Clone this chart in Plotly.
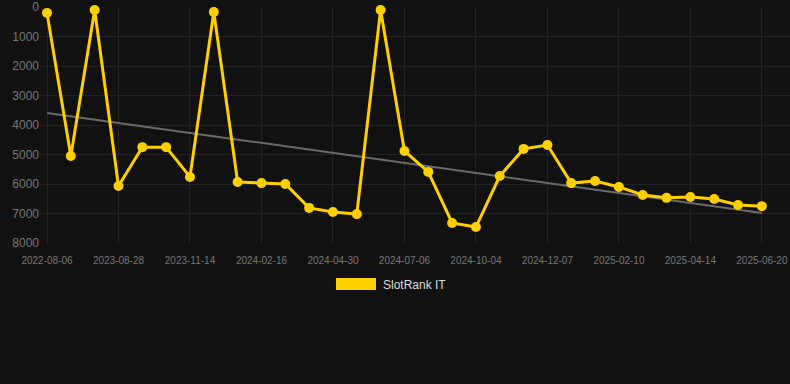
import plotly.graph_objects as go

dates = ["2022-08-06", "2022-09-10", "2023-07-20", "2023-08-28", "2023-09-20", "2023-10-15",
         "2023-11-14", "2023-12-10", "2024-01-05", "2024-02-16", "2024-03-10", "2024-03-30",
         "2024-04-30", "2024-05-20", "2024-06-10", "2024-07-06", "2024-08-01", "2024-09-01",
         "2024-10-04", "2024-10-25", "2024-11-15", "2024-12-07", "2024-12-28", "2025-01-20",
         "2025-02-10", "2025-03-01", "2025-03-22", "2025-04-14", "2025-05-05", "2025-05-28",
         "2025-06-20"]
ranks = [200, 5050, 100, 6070, 4750, 4750, 5760, 170, 5930, 5970, 6000, 6810, 6950, 7020,
         100, 4880, 5590, 7320, 7460, 5730, 4810, 4680, 5970, 5900, 6100, 6370, 6470, 6440,
         6510, 6710, 6750]
trend_ends = [3590, 6980]
tick_labels = [d for i, d in enumerate(dates) if i % 3 == 0]
series_name = "SlotRank IT"

YELLOW = "#FFD000"
BG = "#111111"

fig = go.Figure()
fig.add_trace(go.Scatter(
    x=[dates[0], dates[-1]], y=trend_ends, mode="lines",
    line=dict(color="#6b6b6b", width=2), showlegend=False, hoverinfo="skip"))
fig.add_trace(go.Scatter(
    x=dates, y=ranks, mode="lines+markers", name=series_name,
    line=dict(color=YELLOW, width=3), marker=dict(color=YELLOW, size=10),
    cliponaxis=False, showlegend=False))

L, R, T, B = 40, 0, 7, 141
W, H = 790, 384
pw, ph = W - L - R, H - T - B

def px_x(p):
    return (p - L) / pw

def px_y(p):
    return (H - B - p) / ph

fig.add_shape(type="rect", xref="paper", yref="paper",
              x0=px_x(336), x1=px_x(376), y0=px_y(290), y1=px_y(278),
              fillcolor=YELLOW, line=dict(width=0))
fig.add_annotation(xref="paper", yref="paper", x=px_x(381), y=px_y(285),
                   text=series_name, showarrow=False, xanchor="left", yanchor="middle",
                   font=dict(color="#dddddd", size=12))

fig.update_layout(
    width=W, height=H, paper_bgcolor=BG, plot_bgcolor=BG,
    margin=dict(l=L, r=R, t=T, b=B),
    font=dict(family="Liberation Sans, Arial, sans-serif"),
    showlegend=False,
    xaxis=dict(type="category", categoryorder="array", categoryarray=dates,
               range=[-0.294, 31.18], tickmode="array",
               tickvals=tick_labels, ticktext=tick_labels,
               tickfont=dict(color="#777777", size=10), showgrid=True,
               gridcolor="#222222", zeroline=False, showline=False,
               ticks="outside", ticklen=8, tickcolor="rgba(0,0,0,0)",
               tickangle=0),
    yaxis=dict(range=[8000, 0], tickvals=[0, 1000, 2000, 3000, 4000, 5000, 6000, 7000, 8000],
               tickfont=dict(color="#777777", size=12), showgrid=True,
               gridcolor="#222222", zeroline=False, showline=False, ticks=""),
)

fig.write_html("out.html")
